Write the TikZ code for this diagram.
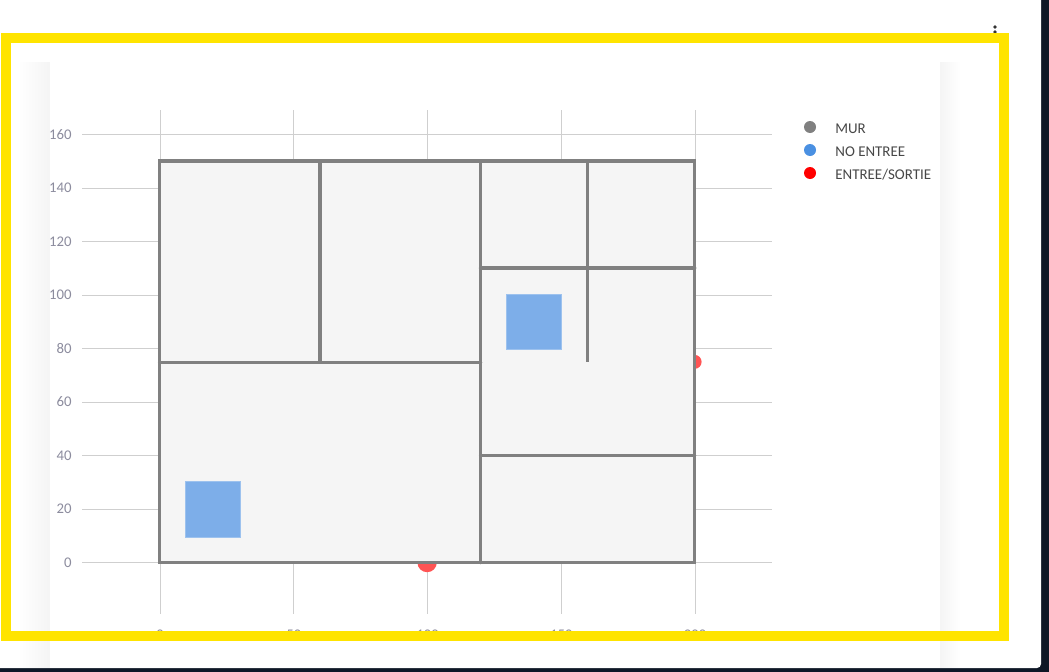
\documentclass[tikz,border=0pt]{standalone}
\usepackage{fontspec}
\setmainfont{Carlito}
\tikzset{
  gridline/.style={draw=black!19, line width=0.2mm},
  wall/.style={draw=black!50, line width=0.72mm, line cap=round},
  ticklabel/.style={text=ticktext, font=\fontsize{8.4pt}{9pt}\selectfont, inner sep=0pt},
  legendlabel/.style={text=black!72, font=\fontsize{8.5pt}{9pt}\selectfont, inner sep=0pt, anchor=west},
  legenddot/.style={circle, minimum size=2.4mm, inner sep=0pt},
  noentry/.style={fill=noentree, draw=noentree!75!white, line width=0.1mm},
}
\definecolor{ticktext}{HTML}{8C8C9E}
\definecolor{noentree}{HTML}{7DAEE9}
\definecolor{legendblue}{HTML}{4A90E2}
\definecolor{darkbg}{HTML}{0E1726}
\definecolor{room}{HTML}{F5F5F5}
\definecolor{frame}{HTML}{FFE400}
\begin{document}
\begin{tikzpicture}[x=0.2mm, y=-0.2mm]
  \useasboundingbox (0, 0) rectangle (1049, 672);
  % Page
  \fill[darkbg] (0, 0) rectangle (1049, 672);
  \fill[white, rounded corners=0.8mm] (-10, -10) rectangle (1041, 668);
  \foreach \i in {1,...,10} {
    \pgfmathsetmacro{\tone}{0.4*\i}
    \fill[black!\tone] (50-33+3*\i, 62) rectangle (50, 668);
    \fill[black!\tone] (940, 62) rectangle (940+22-2*\i, 668);
  }
  % Menu dots
  \foreach \y in {27, 32, 37} {
    \fill[black!80] (995, \y) circle (0.36mm);
  }
  % Grid
  \foreach \y/\lab in {0/0, 20/20, 40/40, 60/60, 80/80, 100/100, 120/120, 140/140, 160/160} {
    \draw[gridline] (82, 562.5-2.675*\y) -- (772, 562.5-2.675*\y);
    \node (ylabel-\y) [ticklabel, anchor=east] at (72, 562.5-2.675*\y) {\lab};
  }
  \foreach \x/\lab in {0/0, 50/50, 100/100, 150/150, 200/200} {
    \draw[gridline] (160+2.675*\x, 110) -- (160+2.675*\x, 614);
    \node (xlabel-\x) [ticklabel] at (160+2.675*\x, 635) {\lab};
  }
  % Plot
  \begin{scope}[shift={(159.6, 562.5)}, x=0.535mm, y=0.535mm]
    \fill[red!67!white] (100, 0) circle (1.94mm);
    \fill[red!67!white] (200, 75) circle (1.4mm);
    \fill[room] (0, 0) rectangle (200, 150);
    \filldraw[noentry] (9.5, 9.5) rectangle (30.3, 30.4);
    \filldraw[noentry] (129.4, 79.6) rectangle (150.2, 100.4);
    % Walls
    \draw[wall] (0, 0) rectangle (200, 150);
    \draw[wall] (60, 75) -- (60, 150);
    \draw[wall] (0, 74.8) -- (120, 74.8);
    \draw[wall] (120, 0) -- (120, 150);
    \draw[wall] (120, 110) -- (200, 110);
    \draw[wall] (120, 40) -- (200, 40);
    \draw[wall, line cap=butt] (160, 75) -- (160, 150);
  \end{scope}
  % Legend
  \node (dot-mur) [legenddot, fill=black!50] at (810, 127) {};
  \node (dot-noentree) [legenddot, fill=legendblue] at (810, 150) {};
  \node (dot-sortie) [legenddot, fill=red] at (810, 173) {};
  \node (label-mur) [legendlabel] at (835, 129) {MUR};
  \node (label-noentree) [legendlabel] at (835, 152) {NO ENTREE};
  \node (label-sortie) [legendlabel] at (835, 175) {ENTREE/SORTIE};
  % Frame
  \draw[frame, line width=2.06mm] (6.2, 38.2) rectangle (1004, 636);
\end{tikzpicture}
\end{document}
